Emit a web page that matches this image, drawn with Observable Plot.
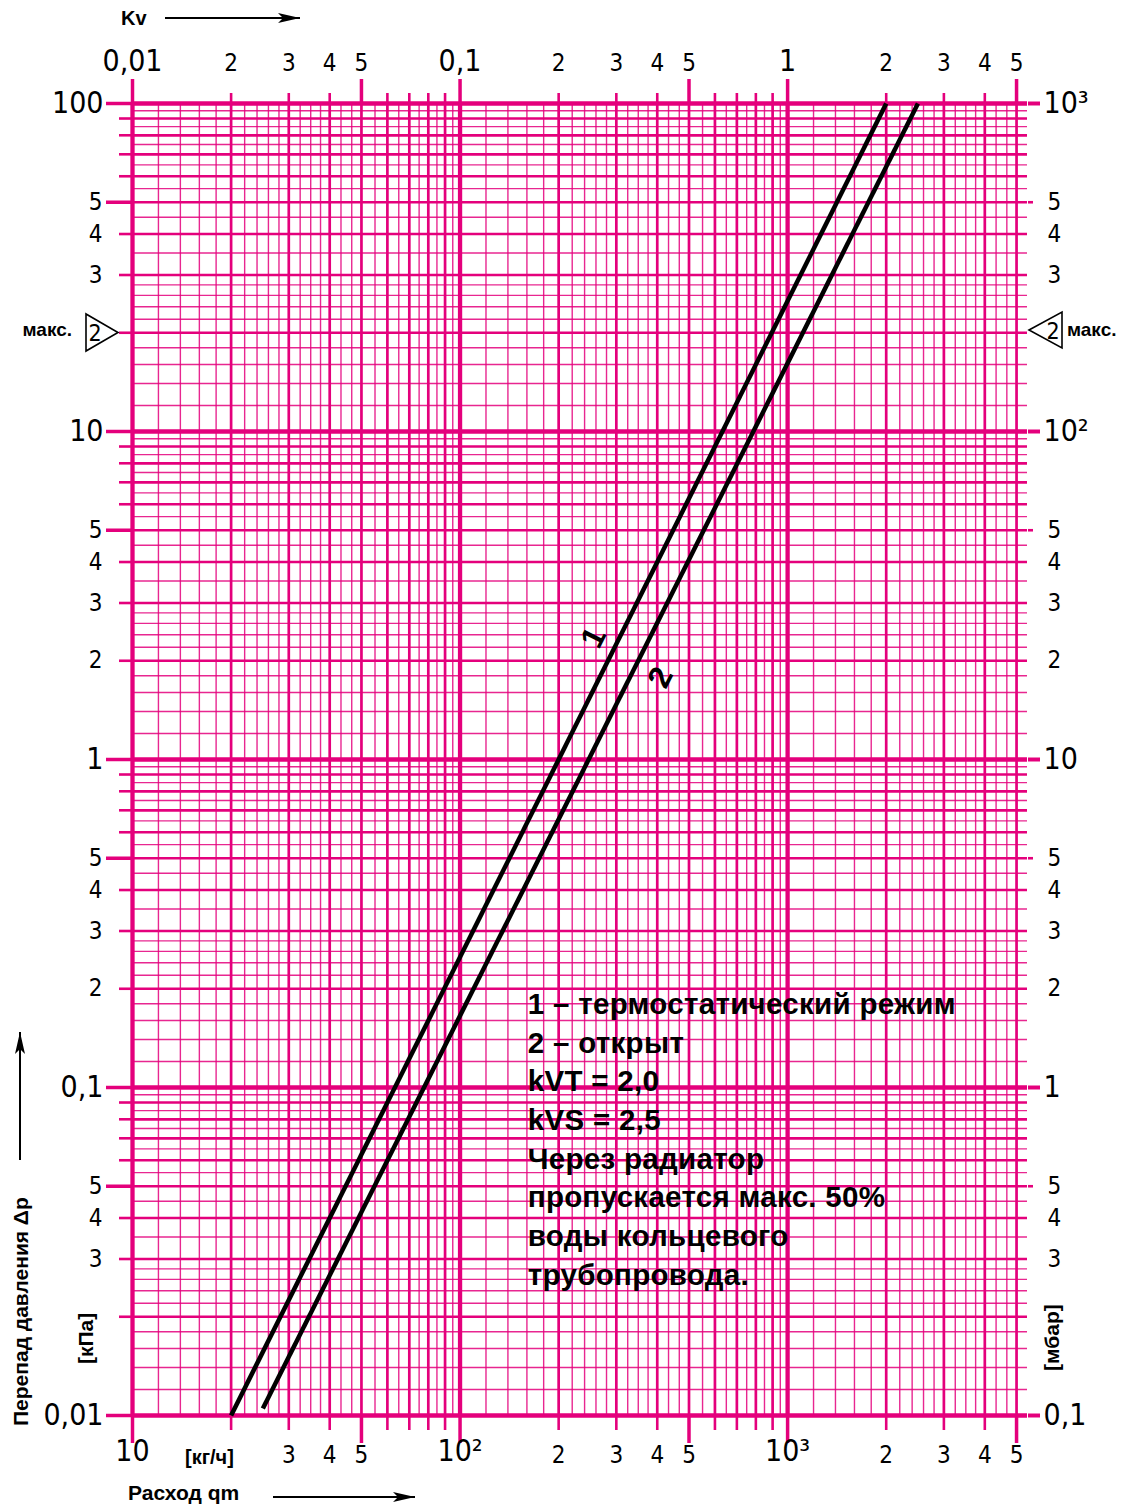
<!DOCTYPE html>
<html><head><meta charset="utf-8">
<script src="https://cdn.jsdelivr.net/npm/d3@7"></script>
<script src="https://cdn.jsdelivr.net/npm/@observablehq/plot@0.6"></script>
<style>body{margin:0;background:#fff}#chart svg{display:block}.note text{letter-spacing:0.3px}</style>
</head><body><div id="chart"></div>
<script>
// ---------- data ----------
const line1Qm = [20, 2000];       // kg/h  (curve 1, kVT = 2.0)
const line1Dp = [0.01, 100];      // kPa
const line2Qm = [25, 2500];       // kg/h  (curve 2, kVS = 2.5)
const line2Dp = [0.0105, 100];    // kPa
const curveLabels = ["1", "2"];
const curveLabelQm = [256, 410];
const curveLabelDp = [2.35, 1.78];

const noteLines = [
  "1 – термостатический режим",
  "2 – открыт",
  "kVT = 2,0",
  "kVS = 2,5",
  "Через радиатор",
  "пропускается макс. 50%",
  "воды кольцевого",
  "трубопровода."
];
const noteQm = 161, noteDp = 0.203;

// ---------- ticks / grid ----------
const qmDecades = [10, 100, 1000];
const dpDecades = [0.01, 0.1, 1, 10];
const intMant = [2, 3, 4, 5, 6, 7, 8, 9];
const subMantX = [1.2, 1.4, 1.6, 1.8, 2.2, 2.4, 2.6, 2.8, 3.25, 3.5, 3.75, 4.33, 4.67, 5.5, 6.5, 7.5, 8.5, 9.5];
const subMantY = [1.2, 1.4, 1.6, 1.8, 2.2, 2.4, 2.6, 2.8, 3.5, 4.5, 5.5, 6.5, 7.5, 8.5, 9.5];
const qmMax = 5000;

const bottomDecadeTicks = [10, 100, 1000];
const bottomDecadeLabels = ["10", "10²", "10³"];
const bottomDigitTicks = [30, 40, 50, 200, 300, 400, 500, 2000, 3000, 4000, 5000];
const bottomDigitLabels = ["3", "4", "5", "2", "3", "4", "5", "2", "3", "4", "5"];

const kvDecadeTicks = [0.01, 0.1, 1];
const kvDecadeLabels = ["0,01", "0,1", "1"];
const kvDigitTicks = [0.02, 0.03, 0.04, 0.05, 0.2, 0.3, 0.4, 0.5, 2, 3, 4, 5];
const kvDigitLabels = ["2", "3", "4", "5", "2", "3", "4", "5", "2", "3", "4", "5"];
const kvToQm = 1000;

const leftDecadeTicks = [100, 10, 1, 0.1, 0.01];
const leftDecadeLabels = ["100", "10", "1", "0,1", "0,01"];
const rightDecadeLabels = ["10³", "10²", "10", "1", "0,1"];
const digitTicksY = [50, 40, 30, 5, 4, 3, 2, 0.5, 0.4, 0.3, 0.2, 0.05, 0.04, 0.03];
const digitLabelsY = ["5", "4", "3", "5", "4", "3", "2", "5", "4", "3", "2", "5", "4", "3"];

const PINK = "#e4007c";
const NARROW = "'Liberation Sans Narrow','Arial Narrow','DejaVu Sans Condensed',sans-serif";
const BOLD = "'Liberation Sans',Arial,Helvetica,sans-serif";

const r = v => +v.toPrecision(6);
const spread = (decs, mants, max = Infinity) =>
  decs.flatMap(d => mants.map(m => r(d * m))).filter(v => v <= max);

const xMajor = qmDecades;
const xInt = spread(qmDecades, intMant, qmMax);
const xSub = spread(qmDecades, subMantX, qmMax);
const yMajor = [...dpDecades, 100];
const yInt = spread(dpDecades, intMant);
const ySub = spread(dpDecades, subMantY);

const isFive = v => { const l = Math.log10(v); return Math.abs(l - Math.floor(l) - Math.log10(5)) < 1e-6; };
const xLong = [...xMajor, ...xInt.filter(isFive)];
const xShort = xInt.filter(v => !isFive(v));
const yLong = [...yMajor, ...yInt.filter(isFive)];
const yShort = yInt.filter(v => !isFive(v));
const yFives = yInt.filter(isFive);

const fmt = (ticks, labels) => { const m = new Map(ticks.map((t, i) => [t, labels[i]])); return d => m.get(d) ?? ""; };
const labelRows = (ticks, labels) => ticks.map((t, i) => ({v: t, t: labels[i]}));

const series = [
  ...line1Qm.map((q, i) => ({qm: q, dp: line1Dp[i], s: "1"})),
  ...line2Qm.map((q, i) => ({qm: q, dp: line2Dp[i], s: "2"}))
];
const labelData = curveLabels.map((t, i) => ({t, qm: curveLabelQm[i], dp: curveLabelDp[i]}));
const kvDec = labelRows(kvDecadeTicks.map(k => r(k * kvToQm)), kvDecadeLabels);
const kvDig = labelRows(kvDigitTicks.map(k => r(k * kvToQm)), kvDigitLabels);

const plot = Plot.plot({
  width: 1125, height: 1508,
  marginLeft: 132, marginRight: 98, marginTop: 103, marginBottom: 93,
  style: {fontFamily: NARROW, background: "#fff", overflow: "visible"},
  x: {type: "log", domain: [10, 5400]},
  y: {type: "log", domain: [0.01, 100]},
  marks: [
    // grid
    Plot.gridX(xSub, {stroke: PINK, strokeWidth: 1.4, strokeOpacity: 0.85}),
    Plot.gridY(ySub, {stroke: PINK, strokeWidth: 1.4, strokeOpacity: 0.85}),
    Plot.gridX(xInt, {stroke: PINK, strokeWidth: 2.7, strokeOpacity: 1}),
    Plot.gridY(yInt, {stroke: PINK, strokeWidth: 2.7, strokeOpacity: 1}),
    Plot.gridX(xMajor, {stroke: PINK, strokeWidth: 4.3, strokeOpacity: 1}),
    Plot.gridY(yMajor, {stroke: PINK, strokeWidth: 4.3, strokeOpacity: 1}),
    // tick extensions
    Plot.axisX(xLong, {anchor: "bottom", tickSize: 28, tickFormat: () => "", stroke: PINK, strokeWidth: 3.5, label: null}),
    Plot.axisX(xShort, {anchor: "bottom", tickSize: 15, tickFormat: () => "", stroke: PINK, strokeWidth: 2.6, label: null}),
    Plot.axisX(xLong, {anchor: "top", tickSize: 25, tickFormat: () => "", stroke: PINK, strokeWidth: 3.5, label: null}),
    Plot.axisX(xShort, {anchor: "top", tickSize: 11, tickFormat: () => "", stroke: PINK, strokeWidth: 2.6, label: null}),
    Plot.axisY(yLong, {anchor: "left", tickSize: 26, tickFormat: () => "", stroke: PINK, strokeWidth: 3.5, label: null}),
    Plot.axisY(yShort, {anchor: "left", tickSize: 13, tickFormat: () => "", stroke: PINK, strokeWidth: 2.6, label: null}),
    Plot.axisY(yMajor, {anchor: "right", tickSize: 12, tickFormat: () => "", stroke: PINK, strokeWidth: 4, label: null}),
    Plot.axisY(yFives, {anchor: "right", tickSize: 5, tickFormat: () => "", stroke: PINK, strokeWidth: 2.6, label: null}),
    // x labels (bottom: qm, top: Kv)
    Plot.text(labelRows(bottomDecadeTicks, bottomDecadeLabels), {x: "v", text: "t", frameAnchor: "bottom", lineAnchor: "top", dy: 24, fontSize: 30, fontFamily: NARROW, fill: "black"}),
    Plot.text(labelRows(bottomDigitTicks, bottomDigitLabels), {x: "v", text: "t", frameAnchor: "bottom", lineAnchor: "top", dy: 30, fontSize: 24, fontFamily: NARROW, fill: "black"}),
    Plot.text(kvDec, {x: "v", text: "t", frameAnchor: "top", lineAnchor: "bottom", dy: -33, fontSize: 30, fontFamily: NARROW, fill: "black"}),
    Plot.text(kvDig, {x: "v", text: "t", frameAnchor: "top", lineAnchor: "bottom", dy: -33, fontSize: 24, fontFamily: NARROW, fill: "black"}),
    // y labels (left: kPa, right: mbar)
    Plot.axisY(leftDecadeTicks, {anchor: "left", tickSize: 0, tickPadding: 29, tickFormat: fmt(leftDecadeTicks, leftDecadeLabels), fontSize: 30, fontFamily: NARROW, fill: "black", label: null}),
    Plot.axisY(digitTicksY, {anchor: "left", tickSize: 0, tickPadding: 30, tickFormat: fmt(digitTicksY, digitLabelsY), fontSize: 24, fontFamily: NARROW, fill: "black", label: null}),
    Plot.axisY(leftDecadeTicks, {anchor: "right", tickSize: 0, tickPadding: 16, tickFormat: fmt(leftDecadeTicks, rightDecadeLabels), fontSize: 30, fontFamily: NARROW, fill: "black", label: null}),
    Plot.axisY(digitTicksY, {anchor: "right", tickSize: 0, tickPadding: 20, tickFormat: fmt(digitTicksY, digitLabelsY), fontSize: 24, fontFamily: NARROW, fill: "black", label: null}),
    // curves
    Plot.line(series, {x: "qm", y: "dp", z: "s", stroke: "black", strokeWidth: 4.5, strokeLinecap: "butt"}),
    Plot.text(labelData, {x: "qm", y: "dp", text: "t", rotate: -63, fontSize: 32, fontWeight: "bold", fontFamily: BOLD, fill: "black"}),
    Plot.text([{qm: noteQm, dp: noteDp, t: noteLines.join("\n")}], {x: "qm", y: "dp", text: "t", textAnchor: "start", lineAnchor: "top", lineHeight: 1.31, fontSize: 29.5, fontWeight: "bold", fontFamily: BOLD, fill: "black", className: "note"})
  ]
});
document.getElementById("chart").appendChild(plot);

// ---------- decorations ----------
const svg = d3.select(plot);
const g = svg.append("g").attr("fill", "black").attr("text-anchor", "start")
  .style("font-family", BOLD).style("font-weight", "bold");
function arrow(x1, y1, x2, y2) {
  g.append("line").attr("x1", x1).attr("y1", y1).attr("x2", x2).attr("y2", y2).attr("stroke", "black").attr("stroke-width", 2);
  const a = Math.atan2(y2 - y1, x2 - x1), L = 22, W = 5;
  const bx = x2 - L * Math.cos(a), by = y2 - L * Math.sin(a);
  const px = -Math.sin(a) * W, py = Math.cos(a) * W;
  g.append("path").attr("d", `M${x2},${y2}L${bx + px},${by + py}L${bx + 5 * Math.cos(a)},${by + 5 * Math.sin(a)}L${bx - px},${by - py}Z`);
}
function label(x, y, txt, size, opts = {}) {
  const t = g.append("text").attr("x", x).attr("y", y).style("font-size", size + "px").text(txt);
  if (opts.anchor) t.attr("text-anchor", opts.anchor);
  if (opts.rotate) t.attr("x", null).attr("y", null).attr("transform", `translate(${x},${y}) rotate(${opts.rotate})`);
  if (opts.normal) t.style("font-weight", "normal").style("font-family", NARROW);
  return t;
}
label(121, 25, "Kv", 20);
arrow(165, 18, 300, 18);
label(128, 1500, "Расход qm", 21);
arrow(273, 1497, 415, 1497);
label(28, 1426, "Перепад давления Δp", 21, {rotate: -90});
arrow(20, 1160, 20, 1032);
label(93, 1364, "[кПа]", 21, {rotate: -90});
label(1059, 1371, "[мбар]", 21, {rotate: -90});
label(185, 1464, "[кг/ч]", 20);
// max markers
g.append("path").attr("d", "M86,314L86,351L118,332.5Z").attr("fill", "white").attr("stroke", "black").attr("stroke-width", 1.6);
label(95, 341, "2", 23, {anchor: "middle", normal: true});
label(72, 336, "макс.", 19, {anchor: "end"});
g.append("path").attr("d", "M1029,330L1062,312L1062,348Z").attr("fill", "white").attr("stroke", "black").attr("stroke-width", 1.6);
label(1053, 339, "2", 23, {anchor: "middle", normal: true});
label(1067, 336, "макс.", 19);
</script>
</body></html>
